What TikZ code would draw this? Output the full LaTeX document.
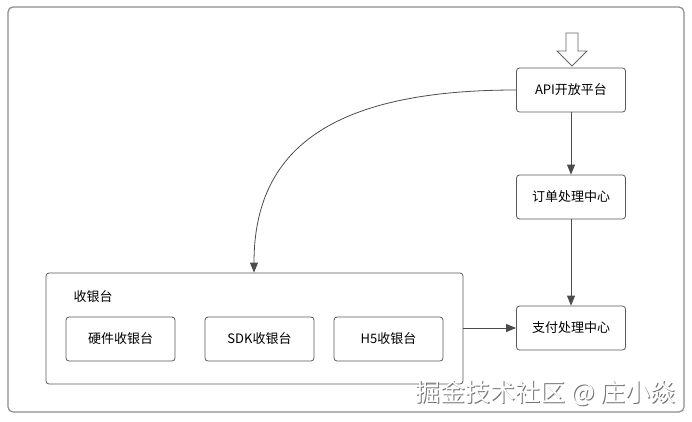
\documentclass[tikz,border=0pt]{standalone}
\usepackage{fontspec}
\setmainfont{Noto Sans CJK SC}
\usetikzlibrary{arrows.meta}

\begin{document}
\begin{tikzpicture}[x=1pt,y=-1pt,
		kasten/.style={draw=black!65,rounded corners=3pt,line width=0.8pt,minimum width=109pt,minimum height=44pt,font=\fontsize{13}{15}\selectfont},
		pfeil/.style={draw=black!70,line width=0.8pt,-{Triangle[length=10pt,width=8pt]}},
		marke/.style={anchor=east,font=\fontsize{25}{28}\selectfont}]
		
		\useasboundingbox (0,0) rectangle (692,421);
		
		%rahmen
		\draw[black!45,line width=1.2pt,rounded corners=5pt] (8,7) rectangle (684,412);
		
		%rechte spalte
		\node[kasten] (api) at (571,90) {API开放平台};
		\node[kasten] (auftrag) at (571,197) {订单处理中心};
		\node[kasten] (zahlung) at (571,328) {支付处理中心};
		
		%eingang
		\draw[black!60,line width=0.8pt,fill=white] (566,33) -- (578,33) -- (578,51) -- (587,51) -- (572,66) -- (557,51) -- (566,51) -- cycle;
		
		%kasse
		\node[draw=black!65,rounded corners=3pt,line width=0.8pt,minimum width=417pt,minimum height=111pt] (kasse) at (254.5,328.5) {};
		\node[anchor=west,font=\fontsize{13}{15}\selectfont] (kassetitel) at (70,297) {收银台};
		
		\foreach \name/\x/\text in {hart/120.5/硬件收银台, sdk/259.5/SDK收银台, hfuenf/388.5/H5收银台}
		\node[kasten] (\name) at (\x,339) {\text};
		
		%pfeile
		\draw[pfeil] (api.south) -- (auftrag.north);
		\draw[pfeil] (auftrag.south) -- (zahlung.north);
		\draw[pfeil] (kasse.east |- zahlung.west) -- (zahlung.west);
		\draw[pfeil] (api.west) .. controls (330,90) and (254,150) .. (kasse.north -| 254,0);
		
		%wasserzeichen
		\node[marke,text=black!55] (markeschatten) at (680,394) {掘金技术社区 @ 庄小焱};
		\node[marke,text=white] (marke) at (679,393) {掘金技术社区 @ 庄小焱};
		
\end{tikzpicture}
\end{document}
